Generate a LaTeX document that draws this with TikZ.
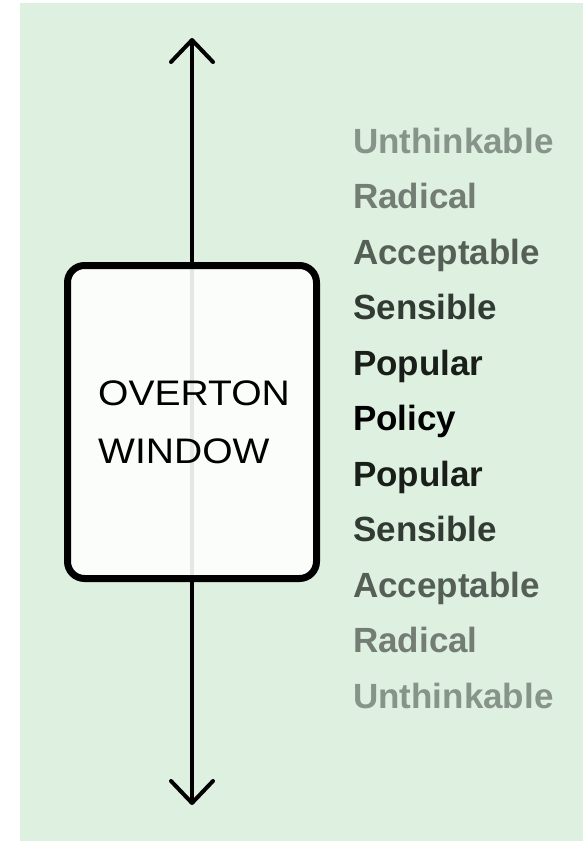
\documentclass[tikz,border=0pt]{standalone}
\usepackage{fontspec}
\setmainfont{Liberation Sans}
\usetikzlibrary{arrows.meta}
\definecolor{bggreen}{RGB}{222,240,224}
\definecolor{cA}{RGB}{135,148,137}
\definecolor{cB}{RGB}{115,125,115}
\definecolor{cC}{RGB}{85,95,85}
\definecolor{cD}{RGB}{50,58,52}
\definecolor{cE}{RGB}{25,30,25}
\definecolor{cF}{RGB}{0,0,0}
\tikzset{
  lbl/.style={anchor=base west, inner sep=0pt, font=\fontsize{35}{35}\selectfont\bfseries},
  wtxt/.style={anchor=base west, inner sep=0pt, font=\fontsize{35.5}{35.5}\selectfont},
  winbox/.style={draw=black, line width=7pt, rounded corners=17pt, fill=white, fill opacity=0.9, draw opacity=1},
  axis/.style={line width=4pt, line cap=round, {Straight Barb[length=22pt,width=42pt,line width=4pt,round]}-{Straight Barb[length=22pt,width=42pt,line width=4pt,round]}}
}
\begin{document}
\begin{tikzpicture}[x=1pt,y=-1pt]
\useasboundingbox (0,0) rectangle (583,841);
\fill[white] (0,0) rectangle (583,841);
\fill[bggreen] (20,3) rectangle (583,841);
\coordinate (top) at (192,38);
\coordinate (bot) at (192,805);
\draw[axis] (top) -- (bot);
\draw[winbox] (67.5,265.5) rectangle (316.5,578.5);
\node[wtxt] (t1) at (98,405) {\scalebox{1.1}[1]{OVERTON}};
\node[wtxt] (t2) at (98,463) {\scalebox{1.1}[1]{WINDOW}};
\node[lbl, text=cA] (l1) at (353,153) {Unthinkable};
\node[lbl, text=cB] (l2) at (353,208.5) {Radical};
\node[lbl, text=cC] (l3) at (353,264) {Acceptable};
\node[lbl, text=cD] (l4) at (353,319.5) {Sensible};
\node[lbl, text=cE] (l5) at (353,375) {Popular};
\node[lbl, text=cF] (l6) at (353,430.5) {Policy};
\node[lbl, text=cE] (l7) at (353,486) {Popular};
\node[lbl, text=cD] (l8) at (353,541.5) {Sensible};
\node[lbl, text=cC] (l9) at (353,597) {Acceptable};
\node[lbl, text=cB] (l10) at (353,652.5) {Radical};
\node[lbl, text=cA] (l11) at (353,708) {Unthinkable};
\end{tikzpicture}
\end{document}
